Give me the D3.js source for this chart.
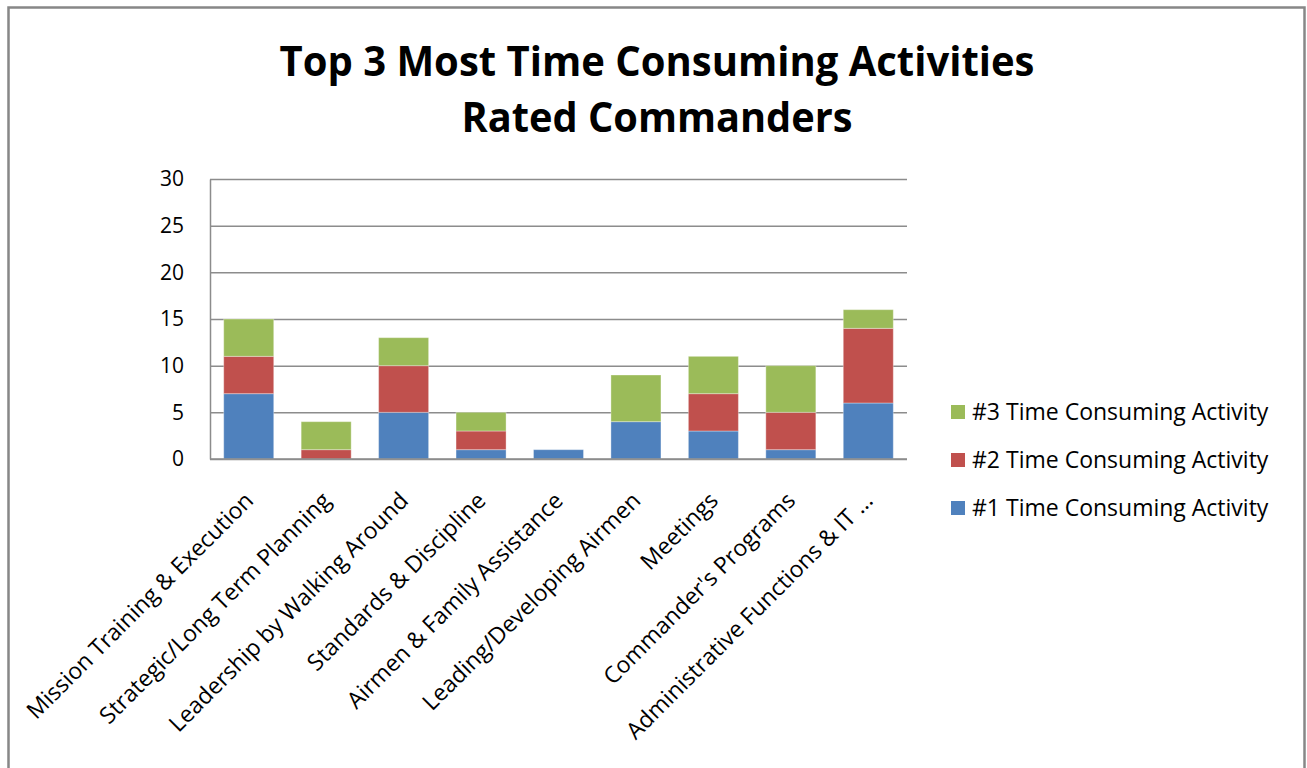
<!DOCTYPE html>
<html>
<head>
<meta charset="utf-8">
<script src="https://cdn.jsdelivr.net/npm/d3@7"></script>
<style>
  html, body { margin: 0; padding: 0; background: #fff; }
  svg { display: block; }
  text { font-family: "Open Sans", Lato, sans-serif; fill: #000; }
</style>
</head>
<body>
<svg id="chart" width="1307" height="768"></svg>
<script>
// Activity categories along the x axis
const categories = [
  "Mission Training & Execution",
  "Strategic/Long Term Planning",
  "Leadership by Walking Around",
  "Standards & Discipline",
  "Airmen & Family Assistance",
  "Leading/Developing Airmen",
  "Meetings",
  "Commander's Programs",
  "Administrative Functions & IT ..."
];

// Number of commanders ranking each activity first, second, third
const first  = [7, 0, 5, 1, 1, 4, 3, 1, 6];
const second = [4, 1, 5, 2, 0, 0, 4, 4, 8];
const third  = [4, 3, 3, 2, 0, 5, 4, 5, 2];

const seriesNames = [
  "#1 Time Consuming Activity",
  "#2 Time Consuming Activity",
  "#3 Time Consuming Activity"
];
const seriesColors = ["#4F81BD", "#C0504D", "#9BBB59"];
const yTicks = [0, 5, 10, 15, 20, 25, 30];

const titleLines = ["Top 3 Most Time Consuming Activities", "Rated Commanders"];

const svg = d3.select("#chart");

// Outer frame
svg.append("rect")
  .attr("x", 8.5).attr("y", 7.5)
  .attr("width", 1296).attr("height", 780)
  .attr("fill", "#fff")
  .attr("stroke", "#878787")
  .attr("stroke-width", 2.5);

// Title
svg.append("g").selectAll("text")
  .data(titleLines)
  .join("text")
  .attr("x", 657)
  .attr("y", (d, i) => 76 + i * 56)
  .attr("text-anchor", "middle")
  .attr("font-size", 41)
  .attr("font-weight", "bold")
  .attr("textLength", (d, i) => i === 0 ? 755 : 391)
  .attr("lengthAdjust", "spacingAndGlyphs")
  .text(d => d);

// Plot area
const plot = { left: 210, right: 907, top: 179, bottom: 459 };

const x = d3.scaleBand()
  .domain(categories)
  .range([plot.left, plot.right])
  .paddingInner(0.354)
  .paddingOuter(0.177);

const y = d3.scaleLinear()
  .domain([0, 30])
  .range([plot.bottom, plot.top]);

// Gridlines
svg.append("g")
  .attr("transform", `translate(${plot.left},0)`)
  .call(d3.axisLeft(y).tickValues(yTicks).tickSize(-(plot.right - plot.left)).tickFormat(""))
  .call(g => g.select(".domain").remove())
  .call(g => g.selectAll("line").attr("stroke", "#8c8c8c").attr("stroke-width", 1.5));

// Y axis labels
svg.append("g")
  .attr("transform", `translate(${plot.left},0)`)
  .call(d3.axisLeft(y).tickValues(yTicks).tickSize(0).tickPadding(26))
  .call(g => g.select(".domain").attr("stroke", "#8c8c8c").attr("stroke-width", 1.5))
  .call(g => g.selectAll("text")
    .attr("font-size", 21)
    .style("font-family", "'Open Sans', sans-serif")
    .attr("fill", "#000"));

// Stacked bars
const rows = categories.map((c, i) => ({ cat: c, s0: first[i], s1: second[i], s2: third[i] }));
const stack = d3.stack().keys(["s0", "s1", "s2"]);
const layers = stack(rows);

svg.append("g").selectAll("g")
  .data(layers)
  .join("g")
  .attr("fill", (d, i) => seriesColors[i])
  .selectAll("rect")
  .data(d => d.filter(p => p[1] > p[0]))
  .join("rect")
  .attr("x", d => x(d.data.cat))
  .attr("width", x.bandwidth())
  .attr("y", d => y(d[1]))
  .attr("height", d => y(d[0]) - y(d[1]))
  .attr("stroke", "rgba(255,255,255,0.35)")
  .attr("stroke-width", 1);

// Baseline (x axis)
svg.append("line")
  .attr("x1", plot.left).attr("x2", plot.right)
  .attr("y1", y(0)).attr("y2", y(0))
  .attr("stroke", "#8c8c8c").attr("stroke-width", 1.5);

// Category labels, rotated
svg.append("g").selectAll("text")
  .data(categories)
  .join("text")
  .attr("transform", d => `translate(${x(d) + x.bandwidth() / 2 + 6},${plot.bottom + 43}) rotate(-45)`)
  .attr("text-anchor", "end")
  .attr("font-size", 23)
  .text(d => d);

// Legend (top to bottom: #3, #2, #1)
const legendOrder = [2, 1, 0];
const legend = svg.append("g").selectAll("g")
  .data(legendOrder)
  .join("g")
  .attr("transform", (d, i) => `translate(951,${412 + i * 48})`);

legend.append("rect")
  .attr("x", 0).attr("y", -7)
  .attr("width", 14).attr("height", 14)
  .attr("fill", d => seriesColors[d]);

legend.append("text")
  .attr("x", 21)
  .attr("dy", "0.35em")
  .attr("font-size", 23)
  .text(d => seriesNames[d]);
</script>
</body>
</html>
